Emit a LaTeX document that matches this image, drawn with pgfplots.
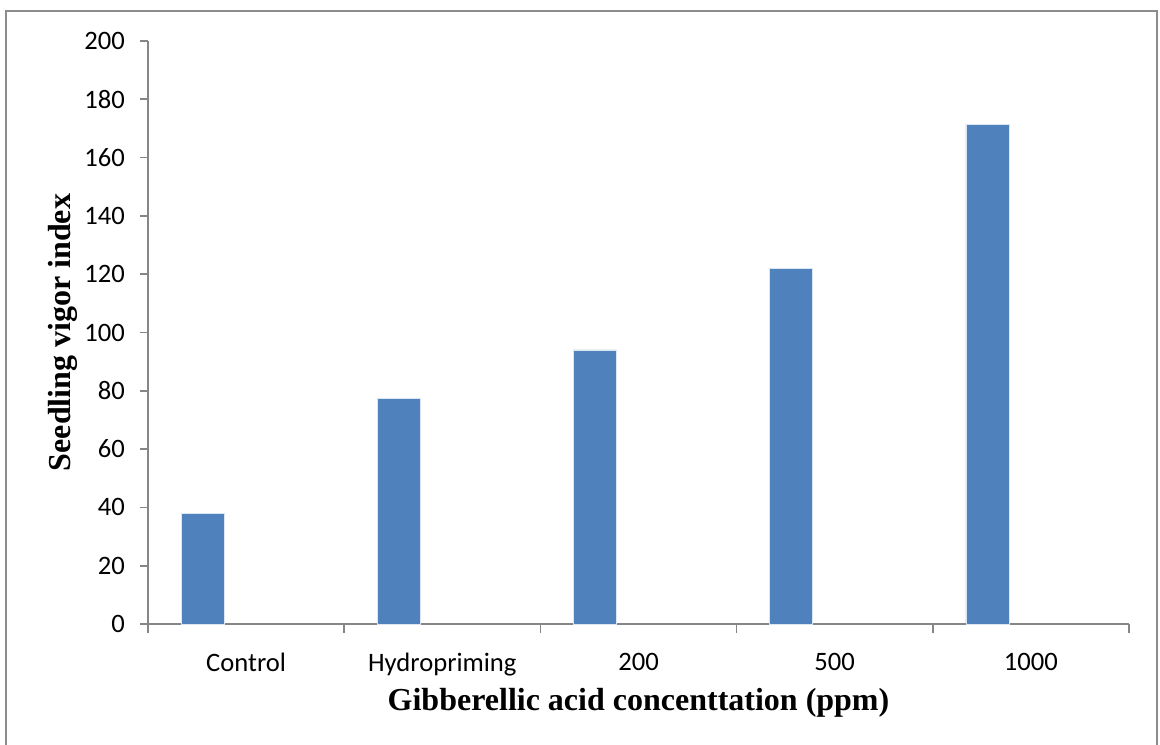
\documentclass[border=0pt]{standalone}
\usepackage{pgfplots}
\pgfplotsset{compat=1.18}
\usepackage{fontspec}
\setmainfont{Liberation Serif}
\newfontfamily\calibri{Carlito}
\definecolor{barblue}{HTML}{4F81BD}
\definecolor{axgray}{HTML}{868686}
\definecolor{framegray}{HTML}{8C8C8C}
\begin{document}
\begin{tikzpicture}[x=0.5pt,y=0.5pt]
\useasboundingbox (0,0) rectangle (1160,744);
\draw[framegray,line width=1.2pt] (6,-5) -- (6,733) -- (1157,733) -- (1157,-5);
\begin{axis}[
  at={(74pt,60pt)}, anchor=south west,
  scale only axis, width=490.5pt, height=291.5pt,
  xmin=-0.5, xmax=4.5, ymin=0, ymax=200,
  axis x line*=bottom, axis y line*=left,
  axis line style={axgray, line width=0.8pt},
  xtick={0,1,2,3,4},
  xticklabels={Control,Hydropriming,200,500,1000},
  major x tick style={draw=none},
  minor xtick={-0.5,0.5,1.5,2.5,3.5,4.5},
  minor x tick style={axgray, line width=0.8pt},
  minor tick length=4.5pt,
  ytick={0,20,...,200},
  y tick style={axgray, line width=0.8pt},
  major tick length=4pt,
  tick align=outside,
  tick label style={font=\calibri\fontsize{13.3}{15}\selectfont},
  /pgf/number format/assume math mode=true,
  xticklabel style={yshift=-7pt},
  yticklabel style={xshift=-4pt},
  xlabel={\bfseries Gibberellic acid concenttation (ppm)},
  ylabel={\bfseries Seedling vigor index},
  xlabel style={font=\fontsize{16}{18}\selectfont, yshift=1pt},
  ylabel style={font=\fontsize{16}{18}\selectfont, yshift=-3.5pt},
  clip=false,
]
\addplot[ybar, bar width=0.219, bar shift=-0.222, fill=barblue, draw=white!80!barblue, line width=0.3pt]
  coordinates {(0,38.0) (1,77.5) (2,94.0) (3,122.1) (4,171.5)};
\end{axis}
\end{tikzpicture}
\end{document}
